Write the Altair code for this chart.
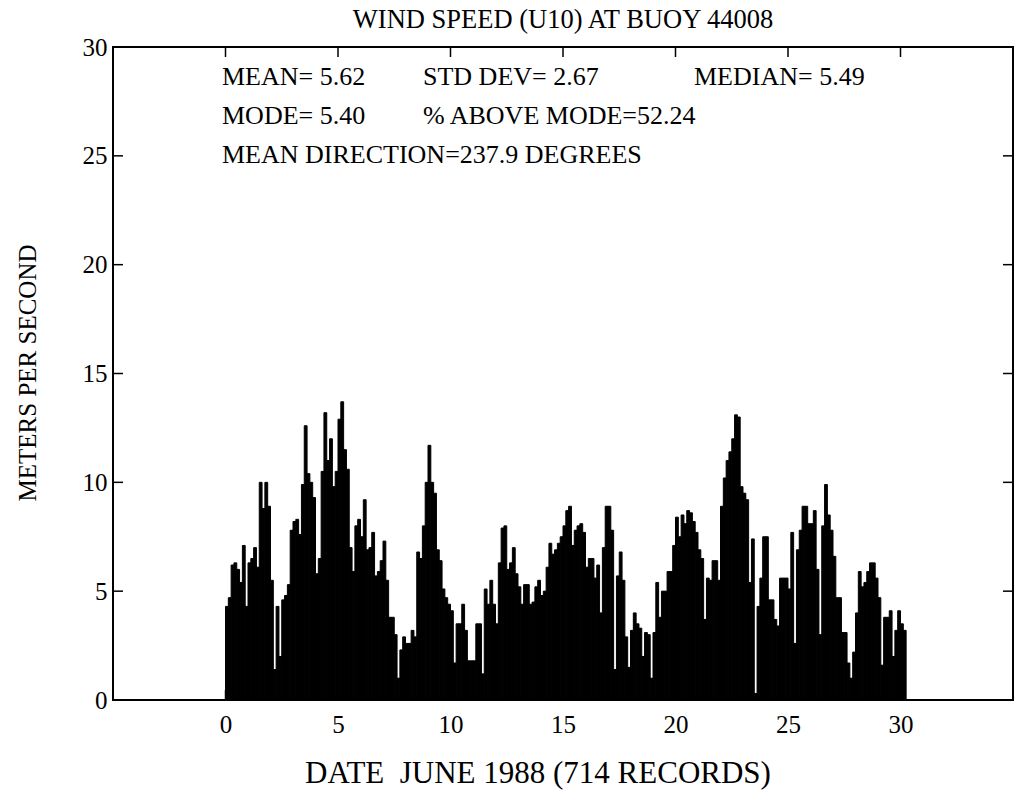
import altair as alt
import pandas as pd

# Wind speed (m/s) at 3-hour steps (8 values per day)
days_00_05 = [
    4.3, 4.7, 6.2, 6.3, 6.0, 5.4, 7.1, 4.3,
    6.3, 6.5, 7.0, 6.1, 10.0, 8.8, 10.0, 8.9,
    5.5, 1.4, 4.3, 2.0, 4.6, 4.8, 5.3, 7.8,
    8.2, 8.3, 7.6, 9.9, 12.6, 10.4, 10.0, 9.3,
    5.8, 6.5, 10.5, 13.2, 11.0, 12.0, 9.8, 10.5,
    12.9, 13.7, 11.5, 10.6, 7.0, 5.9, 8.0, 8.3,
]
days_06_11 = [
    7.5, 9.2, 6.9, 7.0, 7.7, 5.7, 5.9, 6.4,
    7.3, 5.5, 3.8, 3.8, 3.0, 1.0, 2.3, 2.9,
    2.6, 2.6, 3.2, 2.9, 6.8, 6.5, 8.0, 10.0,
    11.7, 10.0, 9.5, 6.9, 6.4, 5.1, 4.7, 4.4,
    4.1, 1.7, 3.5, 3.5, 4.4, 3.2, 1.8, 1.8,
    1.8, 3.5, 3.5, 1.2, 5.1, 4.4, 5.5, 4.4,
]
days_12_17 = [
    3.5, 6.3, 7.9, 8.0, 6.0, 6.3, 7.0, 5.8,
    5.2, 4.4, 5.3, 5.3, 4.4, 4.5, 5.2, 5.5,
    4.8, 5.0, 6.1, 7.2, 6.7, 6.9, 7.2, 7.5,
    8.0, 8.7, 8.9, 7.1, 7.8, 8.0, 8.1, 7.7,
    6.1, 6.5, 6.5, 5.6, 6.2, 4.0, 7.0, 8.9,
    8.9, 7.8, 1.4, 5.7, 6.8, 5.5, 2.9, 1.5,
]
days_18_23 = [
    3.2, 4.0, 3.5, 3.3, 2.0, 3.1, 3.0, 1.0,
    3.1, 5.4, 3.8, 5.0, 5.0, 5.9, 5.9, 7.1,
    8.4, 7.5, 8.5, 8.1, 8.7, 8.6, 8.2, 7.7,
    6.9, 6.5, 3.7, 5.6, 5.5, 6.4, 6.4, 5.5,
    8.9, 10.2, 11.0, 11.4, 12.0, 13.1, 13.0, 9.8,
    9.5, 9.2, 5.4, 7.4, 0.3, 4.3, 5.6, 7.5,
]
days_24_30 = [
    7.5, 4.6, 4.6, 3.7, 3.4, 5.6, 5.6, 5.6,
    5.1, 7.7, 2.6, 6.9, 7.8, 8.9, 8.9, 8.1,
    8.1, 8.7, 6.0, 3.0, 8.0, 9.9, 8.5, 7.8,
    6.6, 4.7, 4.7, 3.1, 3.1, 1.7, 1.0, 2.2,
    4.0, 5.9, 5.2, 5.4, 5.9, 6.3, 6.3, 5.6,
    4.7, 1.6, 3.8, 3.8, 4.1, 2.0, 3.2, 4.1,
    3.5, 3.2,
]

x_ticks = [0, 5, 10, 15, 20, 25, 30]
y_ticks = [0, 5, 10, 15, 20, 25, 30]

title_text = "WIND SPEED (U10) AT BUOY 44008"
x_title = "DATE\u00a0\u00a0JUNE 1988 (714 RECORDS)"
y_title = "METERS PER SECOND"
stat_row1 = ["MEAN= 5.62", "STD DEV= 2.67", "MEDIAN= 5.49"]
stat_row2 = ["MODE= 5.40", "% ABOVE MODE=52.24"]
stat_row3 = ["MEAN DIRECTION=237.9 DEGREES"]

speeds = days_00_05 + days_06_11 + days_12_17 + days_18_23 + days_24_30
step = 1.0 / 8.0
df = pd.DataFrame({"day": [i * step for i in range(len(speeds))], "speed": speeds})
df["day_end"] = df["day"] + step

FONT = "Liberation Serif"
W, H = 900, 653
xs = alt.Scale(domain=[-5, 35], nice=False, zero=False)
ys = alt.Scale(domain=[0, 30], nice=False)

bars = alt.Chart(df).mark_bar(color="black", stroke="black", strokeWidth=1).encode(
    x=alt.X("day:Q", scale=xs, axis=alt.Axis(values=x_ticks, title=None, grid=False,
                                              ticks=False, domain=False, labelFont=FONT,
                                              labelFontSize=25, labelColor="black",
                                              labelPadding=12, format="d")),
    x2="day_end:Q",
    y=alt.Y("speed:Q", scale=ys, axis=alt.Axis(values=y_ticks, title=None, grid=False,
                                                ticks=False, domain=False, labelFont=FONT,
                                                labelFontSize=25, labelColor="black",
                                                labelPadding=6, format="d")),
    y2=alt.datum(0),
)

xt = pd.DataFrame({"day": x_ticks})
yt = pd.DataFrame({"speed": y_ticks})
TL = 10
top_ticks = alt.Chart(xt).mark_rule(color="black", strokeWidth=1.5).encode(
    x=alt.X("day:Q", scale=xs), y=alt.value(0), y2=alt.value(TL))
bot_ticks = alt.Chart(xt).mark_rule(color="black", strokeWidth=1.5).encode(
    x=alt.X("day:Q", scale=xs), y=alt.value(H), y2=alt.value(H - TL))
left_ticks = alt.Chart(yt).mark_rule(color="black", strokeWidth=1.5).encode(
    y=alt.Y("speed:Q", scale=ys), x=alt.value(0), x2=alt.value(TL))
right_ticks = alt.Chart(yt).mark_rule(color="black", strokeWidth=1.5).encode(
    y=alt.Y("speed:Q", scale=ys), x=alt.value(W), x2=alt.value(W - TL))


def label(text, px, py, size=26, align="left", baseline="alphabetic", angle=0):
    return alt.Chart(pd.DataFrame({"label": [text]})).mark_text(
        font=FONT, fontSize=size, color="black", align=align, baseline=baseline,
        angle=angle).encode(text="label:N", x=alt.value(px), y=alt.value(py))


texts = [
    label(stat_row1[0], 109, 38), label(stat_row1[1], 310, 38), label(stat_row1[2], 581, 38),
    label(stat_row2[0], 109, 77), label(stat_row2[1], 310, 77),
    label(stat_row3[0], 109, 116),
    label(x_title, 425, 736, size=31, align="center"),
    label(y_title, -85, 326, size=25, align="center", baseline="middle", angle=270),
]

chart = alt.layer(bars, top_ticks, bot_ticks, left_ticks, right_ticks, *texts).properties(
    width=W, height=H,
    title=alt.TitleParams(title_text, font=FONT, fontSize=26.5, fontWeight="normal",
                          color="black", anchor="middle", offset=2),
    autosize=alt.AutoSizeParams(type="none"),
    padding={"left": 105, "top": 39, "right": 5, "bottom": 92},
).configure(
    background="white",
    view=alt.ViewConfig(stroke="black", strokeWidth=2),
)

chart.save("out.html", embed_options={"renderer": "svg", "actions": False})
